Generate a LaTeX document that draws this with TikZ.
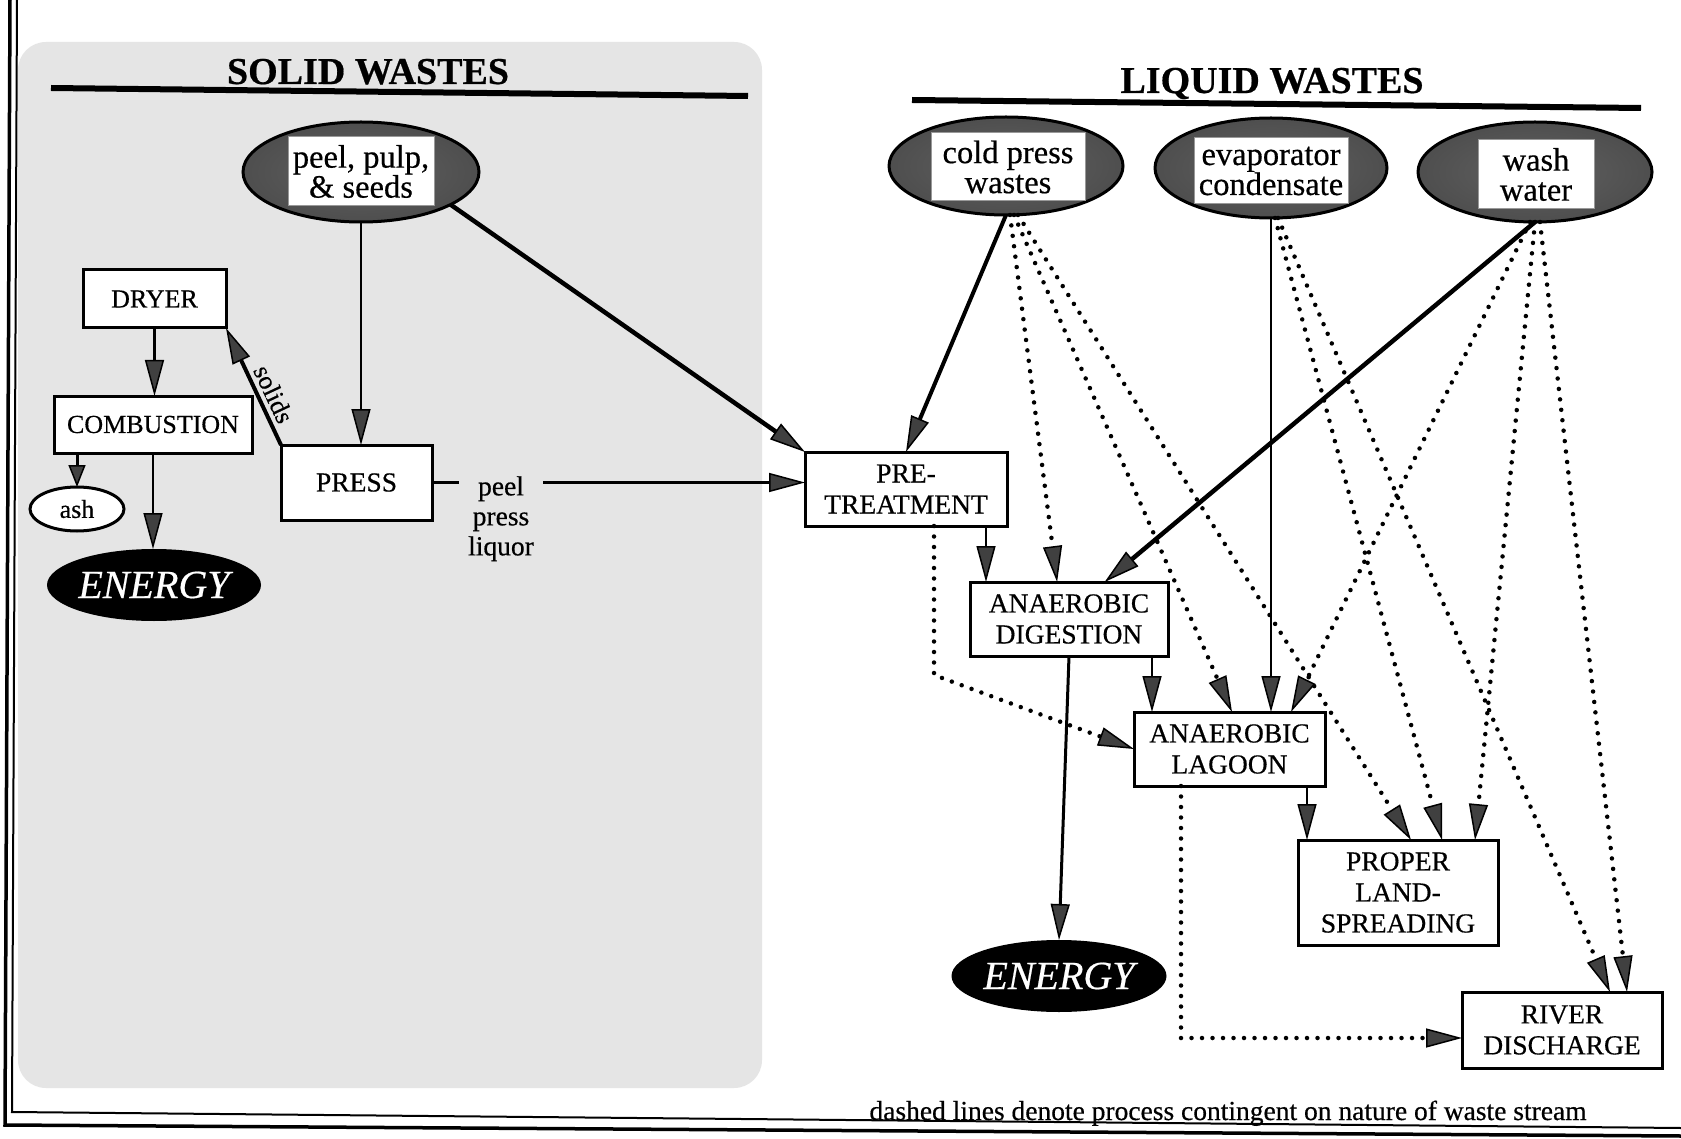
\documentclass[tikz,border=0pt]{standalone}
\usepackage{fontspec}
\setmainfont{Liberation Serif}[FakeBold=0.5]
\usetikzlibrary{arrows.meta,shapes.geometric,calc}

% dark grainy source ovals: lighter core, black rim
\pgfdeclareradialshading{sourceshade}{\pgfpoint{0bp}{0bp}}{%
  color(0bp)=(black!62); color(34bp)=(black!72); color(42bp)=(black!90);
  color(46bp)=(black); color(50bp)=(black)}

\definecolor{stipple}{gray}{0.9}

\begin{document}
\begin{tikzpicture}[x=1pt, y=-1pt,
  bighead/.tip={Triangle[length=36pt, width=19pt, line width=1.5pt, fill=black!75]},
  smallhead/.tip={Triangle[length=22pt, width=17pt, line width=1.5pt, fill=black!75]},
  box/.style={draw=black, line width=3pt, fill=white, align=center,
    inner sep=0pt, outer sep=0pt, font=\fontsize{27.5}{31}\selectfont},
  leftbox/.style={box, font=\fontsize{26}{30}\selectfont},
  source/.style={ellipse, draw=black, line width=3pt, shade, shading=sourceshade,
    inner sep=0pt, outer sep=0pt},
  sourcetext/.style={draw=black!40, line width=1pt, fill=white, align=center,
    inner sep=0pt, font=\fontsize{32.5}{30}\selectfont},
  energy/.style={ellipse, fill=black, text=white, inner sep=0pt, outer sep=0pt,
    font=\fontsize{40}{40}\selectfont\itshape},
  heading/.style={inner sep=0pt, anchor=base, font=\fontsize{38}{40}\selectfont\bfseries},
  rule/.style={line width=6pt},
  flow/.style={draw=black, -bighead, line width=2.5pt},
  heavy/.style={flow, line width=4.5pt},
  maybe/.style={draw=black, -bighead, line width=4.5pt, line cap=round,
    dash pattern=on 0pt off 10.5pt},
]
\useasboundingbox (0,0) rectangle (1681,1139);
\fill[white] (0,0) rectangle (1681,1139);

% stippled panel behind the solid-waste branch
\fill[stipple, rounded corners=28pt] (18,42) rectangle (762,1088);

% double frame, left and bottom
\draw[line width=3.5pt] (10,0) -- (5,1125) -- (1681,1136);
\draw[line width=2pt] (17,0) -- (12,1112) -- (1681,1128);

% headings
\node[heading] (solidH) at (368,84) {SOLID WASTES};
\draw[rule] (51,88) -- (748,96);
\node[heading] (liquidH) at (1272,93) {LIQUID WASTES};
\draw[rule] (912,100) -- (1641,108);

% ---------- solid wastes ----------
\node[source, minimum width=236pt, minimum height=100pt] (peelE) at (361,172) {};
\node[sourcetext, minimum width=146pt, minimum height=69pt] (peelT) at (361,171.5) {peel, pulp,\\\& seeds};

\node[leftbox, minimum width=143pt, minimum height=58pt] (dryer) at (154.5,299) {DRYER};
\node[leftbox, minimum width=198pt, minimum height=57pt] (comb) at (153,424.5) {COMBUSTION};
\node[ellipse, draw=black, line width=3pt, fill=white, minimum width=94pt, minimum height=44pt,
  inner sep=0pt, outer sep=0pt, font=\fontsize{26}{30}\selectfont] (ash) at (77,509) {ash};
\node[energy, minimum width=214pt, minimum height=72pt] (energyL) at (154,585) {ENERGY};
\node[box, minimum width=151pt, minimum height=75pt] (press) at (356.5,482.5) {PRESS};

% ---------- liquid wastes ----------
\node[source, minimum width=234pt, minimum height=98pt] (coldE) at (1006,166) {};
\node[sourcetext, minimum width=154pt, minimum height=68pt] (coldT) at (1008,167) {cold press\\wastes};
\node[source, minimum width=232pt, minimum height=100pt] (evapE) at (1271,168) {};
\node[sourcetext, minimum width=154pt, minimum height=66pt] (evapT) at (1271,171) {evaporator\\condensate};
\node[source, minimum width=234pt, minimum height=100pt] (washE) at (1535,172) {};
\node[sourcetext, minimum width=116pt, minimum height=69pt] (washT) at (1536,174.5) {wash\\water};

\node[box, minimum width=202pt, minimum height=74pt] (pretreat) at (906,489) {PRE-\\TREATMENT};
\node[box, minimum width=198pt, minimum height=74pt] (digest) at (1069,619) {ANAEROBIC\\DIGESTION};
\node[box, minimum width=191pt, minimum height=74pt] (lagoon) at (1229.5,749) {ANAEROBIC\\LAGOON};
\node[box, minimum width=200pt, minimum height=105pt] (proper) at (1398,892.5) {PROPER\\LAND-\\SPREADING};
\node[box, minimum width=200pt, minimum height=76pt] (river) at (1562,1030) {RIVER\\DISCHARGE};
\node[energy, minimum width=215pt, minimum height=72pt] (energyR) at (1059,976) {ENERGY};

% ---------- solid-waste flows ----------
\draw[flow, line width=2pt] (peelE.south) -- (peelE.south |- press.north);
\draw[heavy] (peelE.-20) -- (pretreat.north west);
\draw[flow, line width=3.5pt] (press.east) --
  node[pos=0.185, anchor=north, yshift=10pt, fill=stipple, align=center,
       inner xsep=9pt, inner ysep=2pt, font=\fontsize{27.5}{30}\selectfont] (liquor) {peel\\press\\liquor}
  (press.east -| pretreat.west);
\draw[flow, line width=3pt] (dryer.south) -- (dryer.south |- comb.north);
\draw[flow, line width=4pt] (press.north west) --
  node[sloped, above=4pt, pos=0.38, inner sep=0pt, font=\fontsize{26}{30}\selectfont] (solidsL) {solids}
  (dryer.south east);
\draw[draw=black, -smallhead, line width=3pt] (ash.north |- comb.south) -- (ash.north);
\draw[flow] (comb.south) -- (comb.south |- energyL.north);

% ---------- liquid-waste flows ----------
\draw[heavy, line width=4pt] (coldE.south) -- (pretreat.north);
\draw[flow, line width=2pt] (evapE.south) -- (evapE.south |- lagoon.north);
\draw[heavy] (washE.south) -- ($(digest.north west)!0.68!(digest.north east)$);

\coordinate (ptOut) at ([xshift=80pt]pretreat.south);
\draw[flow] (ptOut) -- (ptOut |- digest.north);
\coordinate (dgOut) at ([xshift=83pt]digest.south);
\draw[flow] (dgOut) -- (dgOut |- lagoon.north);
\draw[flow, line width=3pt] (digest.south) -- (energyR.north);
\coordinate (prIn) at ([xshift=9pt]proper.north west);
\draw[flow] (prIn |- lagoon.south) -- (prIn);

% contingent routes
\coordinate (bendA) at (934,675);
\draw[maybe] (pretreat.south -| bendA) -- (bendA) -- (lagoon.west);
\coordinate (bendB) at (1181,1038);
\draw[maybe] (bendB |- lagoon.south) -- (bendB) -- (bendB -| river.west);

\draw[maybe] ([xshift=4pt]coldE.south) -- ($(digest.north west)!0.44!(digest.north east)$);
\draw[maybe] ([xshift=8pt]coldE.south) -- ($(lagoon.north west)!0.513!(lagoon.north east)$);
\draw[maybe] ([xshift=12pt]coldE.south) -- ($(proper.north west)!0.565!(proper.north east)$);
\draw[maybe] ([xshift=4pt]evapE.south) -- ($(proper.north west)!0.72!(proper.north east)$);
\draw[maybe] ([xshift=7pt]evapE.south) -- ($(river.north west)!0.74!(river.north east)$);
\draw[maybe] ([xshift=-5pt]washE.south) -- ($(lagoon.north west)!0.822!(lagoon.north east)$);
\draw[maybe] (washE.south) -- ($(proper.north west)!0.885!(proper.north east)$);
\draw[maybe] ([xshift=5pt]washE.south) -- ($(river.north west)!0.825!(river.north east)$);

% legend
\node[anchor=base, inner sep=0pt, font=\fontsize{27.5}{30}\selectfont] (note) at (1228,1120)
  {dashed lines denote process contingent on nature of waste stream};
\end{tikzpicture}
\end{document}
